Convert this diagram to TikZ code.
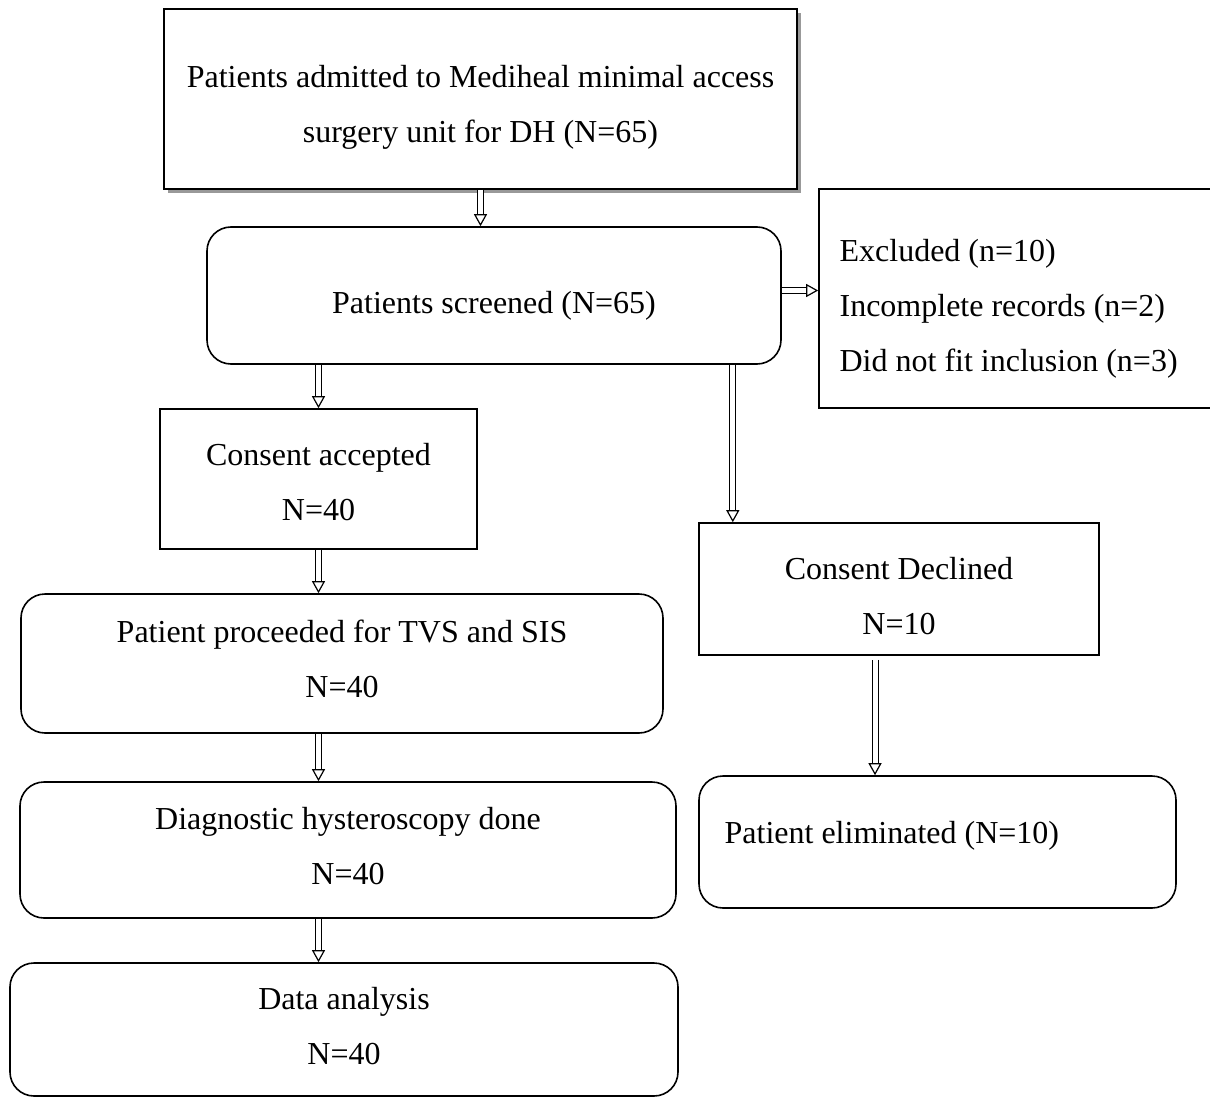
\documentclass[tikz,border=0pt]{standalone}
\usepackage{fontspec}
\setmainfont{Liberation Serif}
\usetikzlibrary{arrows.meta,shadows,calc}

\begin{document}
\begin{tikzpicture}[x=0.5pt,y=-0.5pt,
  txt/.style={font=\fontsize{16}{27.5}\selectfont,align=center,inner sep=0pt},
  sqbox/.style={draw,line width=0.8pt,inner sep=0pt},
  rndbox/.style={sqbox,rounded corners=12pt},
  dblarrow/.style={double,double distance=2.5pt,line width=0.5pt,-{Triangle[open,length=6pt,width=6.5pt,line width=0.6pt]}}]
\useasboundingbox (0,0) rectangle (1210,1097);

% boxes
\node[sqbox,fill=white,minimum width=316.5pt,minimum height=90pt,
  drop shadow={shadow xshift=2pt,shadow yshift=-2pt,fill=gray!80,opacity=1}] (admit) at (480.5,99) {};
\node[rndbox,minimum width=287pt,minimum height=68.5pt] (scr) at (494,295.5) {};
\node[sqbox,minimum width=198pt,minimum height=109.5pt] (excl) at (1017,298.5) {};
\node[sqbox,minimum width=158.5pt,minimum height=70pt] (acc) at (318.5,479) {};
\node[rndbox,minimum width=321pt,minimum height=69.5pt] (tvs) at (342,663.5) {};
\node[rndbox,minimum width=328pt,minimum height=68pt] (diag) at (348,850) {};
\node[rndbox,minimum width=334pt,minimum height=66.5pt] (data) at (344,1029.5) {};
\node[sqbox,minimum width=200pt,minimum height=66pt] (decl) at (899,589) {};
\node[rndbox,minimum width=238.5pt,minimum height=66pt] (elim) at (937.5,842) {};

% texts
\node[txt] (admitt) at ($(admit.center)+(0,8)$) {Patients admitted to Mediheal minimal access\\surgery unit for DH (N=65)};
\node[txt] (scrt) at ($(scr.center)+(0,10)$) {Patients screened (N=65)};
\node[txt,align=flush left,anchor=west] (exclt) at ($(excl.west)+(21,10)$)
  {Excluded (n=10)\\Incomplete records (n=2)\\Did not fit inclusion (n=3)};
\node[txt] (acct) at ($(acc.center)+(0,3)$) {Consent accepted\\N=40};
\node[txt] (tvst) at ($(tvs.center)+(0,-5)$) {Patient proceeded for TVS and SIS\\N=40};
\node[txt] (diagt) at ($(diag.center)+(0,-4)$) {Diagnostic hysteroscopy done\\N=40};
\node[txt] (datat) at ($(data.center)+(0,-3)$) {Data analysis\\N=40};
\node[txt] (declt) at ($(decl.center)+(0,7)$) {Consent Declined\\N=10};
\node[txt,anchor=west] (elimt) at ($(elim.west)+(26,-6)$) {Patient eliminated (N=10)};

% arrows
\draw[dblarrow] (admit.south) -- (admit.south |- scr.north);
\coordinate (side) at ($(scr.east)+(0,-5)$);
\draw[dblarrow] (side) -- (side -| excl.west);
\draw[dblarrow] (acc.north |- scr.south) -- (acc.north);
\coordinate (split) at ($(scr.south east)+(-49,0)$);
\draw[dblarrow] (split) -- (split |- decl.north);
\draw[dblarrow] (acc.south) -- (acc.south |- tvs.north);
\draw[dblarrow] (acc.south |- tvs.south) -- (acc.south |- diag.north);
\draw[dblarrow] (acc.south |- diag.south) -- (acc.south |- data.north);
\coordinate (drop) at ($(decl.south)+(-24,4)$);
\draw[dblarrow] (drop) -- (drop |- elim.north);
\end{tikzpicture}
\end{document}
